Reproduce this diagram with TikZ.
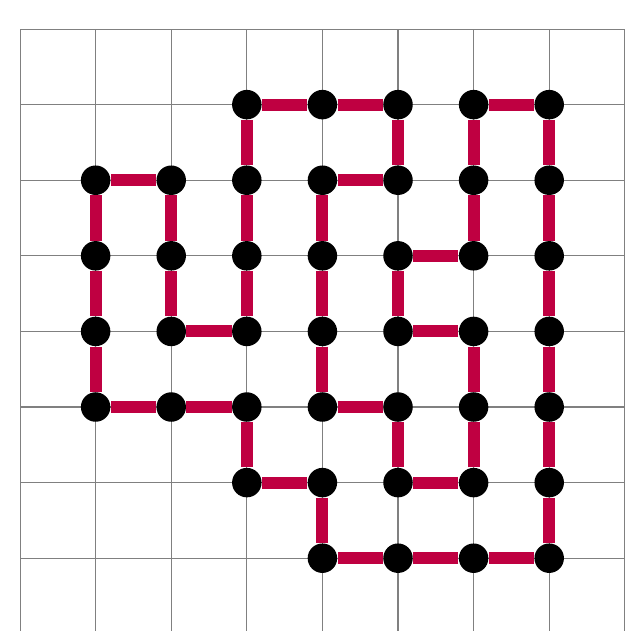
\documentclass[tikz,border=0pt]{standalone}
\usepackage{xcolor}
\usepackage{tikz}
\usetikzlibrary{backgrounds}
\definecolor{tourred}{HTML}{BF0041}

\begin{document}
\begin{tikzpicture}[
  dot/.style={circle, fill=black, inner sep=0pt, minimum size=0.39cm},
  tour/.style={tourred, line width=0.16cm},
  gridline/.style={gray, line width=0.4pt}
]
\useasboundingbox (-0.265,0.384) rectangle (8.0,-7.963);

% Dots, named p<column><row>
\foreach \c/\r in {3/1,4/1,5/1,6/1,7/1,
                   1/2,2/2,3/2,4/2,5/2,6/2,7/2,
                   1/3,2/3,3/3,4/3,5/3,6/3,7/3,
                   1/4,2/4,3/4,4/4,5/4,6/4,7/4,
                   1/5,2/5,3/5,4/5,5/5,6/5,7/5,
                   3/6,4/6,5/6,6/6,7/6,
                   4/7,5/7,6/7,7/7}
  \node[dot] (p\c\r) at (\c,-\r) {};

\begin{scope}[on background layer]
% Grid
\draw[gridline, step=1] (0,-7.963) grid (8,0);

% Closed tour
\draw[tour] (p31) -- (p41) -- (p51) -- (p52) -- (p42) -- (p43) -- (p44)
  -- (p45) -- (p55) -- (p56) -- (p66) -- (p65) -- (p64) -- (p54) -- (p53)
  -- (p63) -- (p62) -- (p61) -- (p71) -- (p72) -- (p73) -- (p74) -- (p75)
  -- (p76) -- (p77) -- (p67) -- (p57) -- (p47) -- (p46) -- (p36) -- (p35)
  -- (p25) -- (p15) -- (p14) -- (p13) -- (p12) -- (p22) -- (p23) -- (p24)
  -- (p34) -- (p33) -- (p32) -- (p31);
\end{scope}

\end{tikzpicture}
\end{document}
